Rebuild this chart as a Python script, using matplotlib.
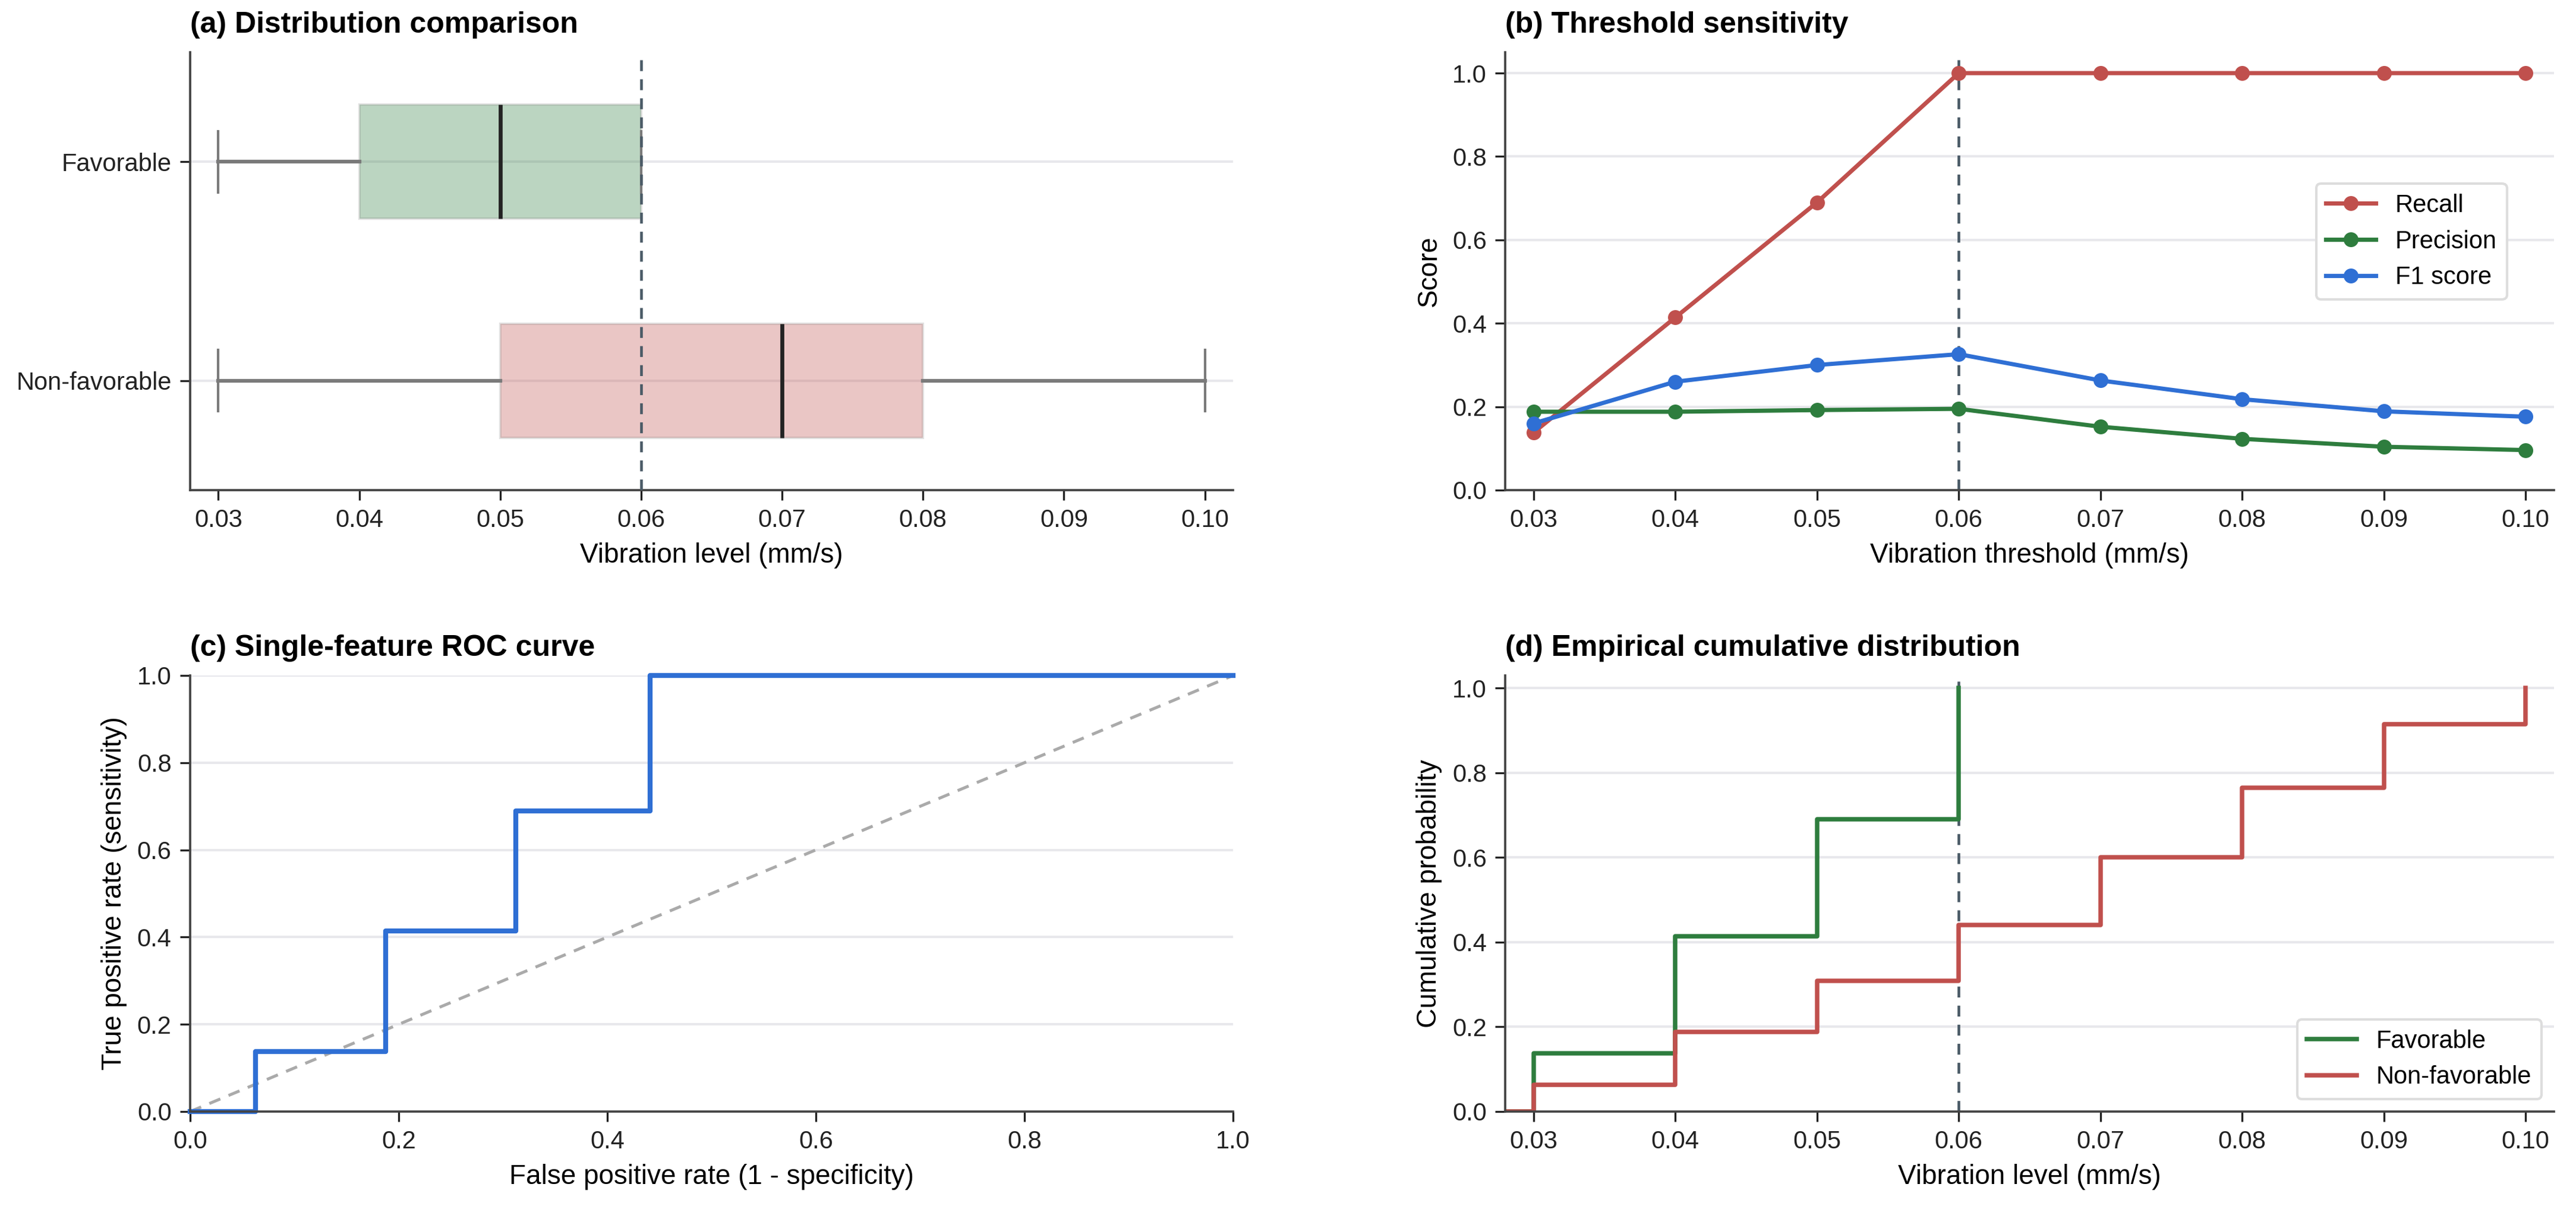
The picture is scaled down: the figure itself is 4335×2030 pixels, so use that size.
import matplotlib
matplotlib.use("Agg")
import matplotlib.pyplot as plt
import numpy as np

plt.rcParams['font.family'] = ['Liberation Sans', 'DejaVu Sans']

# ---------------- data ----------------
groups = ["Favorable", "Non-favorable"]
box_q1 = [0.04, 0.05]
box_med = [0.05, 0.07]
box_q3 = [0.06, 0.08]
box_lo = [0.03, 0.03]
box_hi = [0.06, 0.10]

thresholds = [0.03, 0.04, 0.05, 0.06, 0.07, 0.08, 0.09, 0.10]
recall = [0.138, 0.414, 0.690, 1.0, 1.0, 1.0, 1.0, 1.0]
precision = [0.188, 0.188, 0.192, 0.195, 0.152, 0.123, 0.104, 0.096]
f1 = [0.160, 0.260, 0.300, 0.326, 0.263, 0.218, 0.189, 0.176]

roc_fpr = [0.0, 0.0625, 0.0625, 0.1875, 0.1875, 0.3125, 0.3125, 0.441, 0.441, 1.0]
roc_tpr = [0.0, 0.0, 0.138, 0.138, 0.414, 0.414, 0.690, 0.690, 1.0, 1.0]

fav_levels = [0.03, 0.04, 0.05, 0.06]
fav_ecdf = [0.138, 0.414, 0.690, 1.0]
nonfav_levels = [0.03, 0.04, 0.05, 0.06, 0.07, 0.08, 0.09, 0.10]
nonfav_ecdf = [0.0625, 0.1875, 0.309, 0.441, 0.600, 0.765, 0.915, 1.0]

cutoff = 0.06

# ---------------- style ----------------
RED = "#c0504d"
GREEN = "#2e7d3e"
BLUE = "#2f6fd4"
DASH = "#4a5a66"
GRID = "#e8e8ec"
SPINE = "#444444"

fig = plt.figure(figsize=(4335 / 300, 2030 / 300), dpi=300)
W, H = 4335, 2030
def axpos(l, t, r, b):
    return [l / W, 1 - b / H, (r - l) / W, (b - t) / H]

ax_a = fig.add_axes(axpos(320, 88, 2075, 825))
ax_b = fig.add_axes(axpos(2533, 88, 4298, 825))
ax_c = fig.add_axes(axpos(320, 1137, 2075, 1871))
ax_d = fig.add_axes(axpos(2533, 1137, 4298, 1871))

def style(ax):
    for s in ["top", "right"]:
        ax.spines[s].set_visible(False)
    for s in ["left", "bottom"]:
        ax.spines[s].set_color(SPINE)
        ax.spines[s].set_linewidth(0.9)
    ax.tick_params(axis="both", labelsize=10, colors="#222222", length=4, width=0.8)
    ax.yaxis.grid(True, color=GRID, linewidth=1.0)
    ax.xaxis.grid(False)
    ax.set_axisbelow(True)

TITLE_KW = dict(loc="left", fontsize=12, fontweight="bold", pad=8)
LABEL_FS = 11

# (a) box plot
style(ax_a)
stats = []
for i, g in enumerate(groups):
    stats.append(dict(label=g, q1=box_q1[i], med=box_med[i], q3=box_q3[i],
                      whislo=box_lo[i], whishi=box_hi[i], fliers=[]))
bp = ax_a.bxp(stats, positions=[0, 1], vert=False, widths=0.52, patch_artist=True,
              showfliers=False, capwidths=0.28,
              boxprops=dict(linewidth=1.0),
              whiskerprops=dict(color="#7a7a7a", linewidth=1.5),
              capprops=dict(color="#7a7a7a", linewidth=1.0),
              medianprops=dict(color="#222222", linewidth=1.6))
for patch, c in zip(bp["boxes"], [GREEN, RED]):
    patch.set_facecolor(matplotlib.colors.to_rgba(c, 0.32))
    patch.set_edgecolor(matplotlib.colors.to_rgba("#888888", 0.25))
ax_a.set_ylim(1.5, -0.5)
ax_a.set_yticks([0, 1])
ax_a.set_yticklabels(groups)
ax_a.set_xlim(0.028, 0.102)
ax_a.set_xticks(thresholds)
ax_a.set_xticklabels([f"{t:.2f}" for t in thresholds])
ax_a.axvline(cutoff, color=DASH, linestyle=(0, (4, 3)), linewidth=1.1, zorder=5)
ax_a.set_xlabel("Vibration level (mm/s)", fontsize=LABEL_FS)
ax_a.set_title("(a) Distribution comparison", **TITLE_KW)

# (b) threshold sensitivity
style(ax_b)
ax_b.plot(thresholds, recall, color=RED, marker="o", markersize=5, linewidth=1.7, label="Recall")
ax_b.plot(thresholds, precision, color=GREEN, marker="o", markersize=5, linewidth=1.7, label="Precision")
ax_b.plot(thresholds, f1, color=BLUE, marker="o", markersize=5, linewidth=1.7, label="F1 score")
ax_b.axvline(cutoff, color=DASH, linestyle=(0, (4, 3)), linewidth=1.1, zorder=1)
ax_b.set_xlim(0.028, 0.102)
ax_b.set_ylim(0, 1.05)
ax_b.set_xticks(thresholds)
ax_b.set_xticklabels([f"{t:.2f}" for t in thresholds])
ax_b.set_yticks([0, 0.2, 0.4, 0.6, 0.8, 1.0])
ax_b.set_xlabel("Vibration threshold (mm/s)", fontsize=LABEL_FS)
ax_b.set_ylabel("Score", fontsize=LABEL_FS)
ax_b.set_title("(b) Threshold sensitivity", **TITLE_KW)
leg = ax_b.legend(loc="upper right", bbox_to_anchor=(0.955, 0.70), borderaxespad=0,
                  fontsize=10, frameon=True, edgecolor="#dddddd", framealpha=1.0)

# (c) ROC
style(ax_c)
ax_c.plot([0, 1], [0, 1], color="#aaaaaa", linestyle=(0, (4, 3)), linewidth=1.2)
ax_c.plot(roc_fpr, roc_tpr, color=BLUE, linewidth=2.0, clip_on=False)
ax_c.set_xlim(0, 1)
ax_c.set_ylim(0, 1)
ax_c.set_xticks([0, 0.2, 0.4, 0.6, 0.8, 1.0])
ax_c.set_yticks([0, 0.2, 0.4, 0.6, 0.8, 1.0])
ax_c.set_xlabel("False positive rate (1 - specificity)", fontsize=LABEL_FS)
ax_c.set_ylabel("True positive rate (sensitivity)", fontsize=LABEL_FS)
ax_c.set_title("(c) Single-feature ROC curve", **TITLE_KW)

# (d) ECDF
style(ax_d)
xmin = 0.028
ax_d.step([xmin] + fav_levels, [0.0] + fav_ecdf, where="post", color=GREEN, linewidth=1.8, label="Favorable")
ax_d.step([xmin] + nonfav_levels, [0.0] + nonfav_ecdf, where="post", color=RED, linewidth=1.8, label="Non-favorable")
ax_d.axvline(cutoff, color=DASH, linestyle=(0, (4, 3)), linewidth=1.1, zorder=1)
ax_d.set_xlim(0.028, 0.102)
ax_d.set_ylim(0, 1.03)
ax_d.set_xticks(thresholds)
ax_d.set_xticklabels([f"{t:.2f}" for t in thresholds])
ax_d.set_yticks([0, 0.2, 0.4, 0.6, 0.8, 1.0])
ax_d.set_xlabel("Vibration level (mm/s)", fontsize=LABEL_FS)
ax_d.set_ylabel("Cumulative probability", fontsize=LABEL_FS)
ax_d.set_title("(d) Empirical cumulative distribution", **TITLE_KW)
ax_d.legend(loc="lower right", fontsize=10, frameon=True, edgecolor="#dddddd", framealpha=1.0)

fig.savefig("out.png", dpi=300)
